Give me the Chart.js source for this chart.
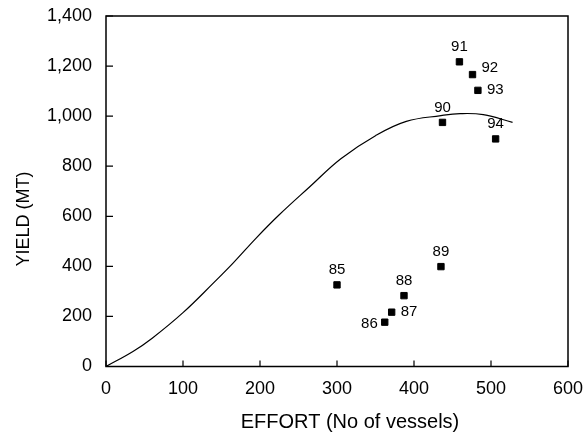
<!DOCTYPE html>
<html>
<head>
<meta charset="utf-8">
<script src="https://cdn.jsdelivr.net/npm/chart.js@4/dist/chart.umd.min.js"></script>
<style>
  html, body { margin: 0; padding: 0; background: #fff; }
  #wrap { width: 584px; height: 435px; }
</style>
</head>
<body>
<div id="wrap"><canvas id="plot"></canvas></div>
<script>
// años (etiquetas de los puntos) y valores observados
let anios = ['85', '86', '87', '88', '89', '90', '91', '92', '93', '94'];
let esfuerzo = [300, 362, 371, 387, 435, 437, 459, 476, 483, 506];
let rendimiento = [326, 177, 217, 283, 399, 975, 1217, 1166, 1103, 909];

// curva ajustada
let curvaX = [0, 35, 60, 100, 140, 165, 195, 225, 265, 305, 350, 390, 435, 460, 490, 528];
let curvaY = [0, 60, 113, 215, 335, 413, 513, 606, 719, 830, 922, 979, 1002, 1010, 1006, 975];

// ticks de los ejes
let ticksX = [0, 100, 200, 300, 400, 500, 600];
let ticksY = [0, 200, 400, 600, 800, 1000, 1200, 1400];

// títulos de los ejes
let tituloX = 'EFFORT (No of vessels)';
let tituloY = 'YIELD (MT)';

// donde va cada etiqueta respecto a su punto
let posEtiqueta = ['top', 'left', 'right', 'top', 'top', 'top', 'top', 'upright', 'right', 'top'];

let fuente = 'Liberation Sans, Arial, Helvetica, sans-serif';

// marco del gráfico + marcas de los ejes hacia adentro + títulos
let marco = {
  id: 'marco',
  afterDraw: (chart) => {
    let ctx = chart.ctx;
    let a = chart.chartArea;
    let sx = chart.scales.x;
    let sy = chart.scales.y;
    ctx.save();
    ctx.strokeStyle = '#000';
    ctx.lineWidth = 1.5;
    ctx.strokeRect(a.left, a.top, a.right - a.left, a.bottom - a.top);
    ctx.lineWidth = 1.2;
    ctx.beginPath();
    ticksX.forEach(v => {
      let px = sx.getPixelForValue(v);
      ctx.moveTo(px, a.bottom);
      ctx.lineTo(px, a.bottom - 6);
    });
    ticksY.forEach(v => {
      let py = sy.getPixelForValue(v);
      ctx.moveTo(a.left, py);
      ctx.lineTo(a.left + 7, py);
    });
    ctx.stroke();

    // títulos (en el original no están centrados en el área)
    ctx.fillStyle = '#000';
    ctx.textAlign = 'center';
    ctx.textBaseline = 'middle';
    ctx.font = '20px ' + fuente;
    ctx.fillText(tituloX, 350, 422);
    ctx.translate(24, 219);
    ctx.rotate(-Math.PI / 2);
    ctx.font = '18px ' + fuente;
    ctx.fillText(tituloY, 0, 0);
    ctx.restore();
  }
};

// etiquetas de año junto a cada punto
let etiquetas = {
  id: 'etiquetas',
  afterDatasetsDraw: (chart) => {
    let ctx = chart.ctx;
    let meta = chart.getDatasetMeta(1);
    ctx.save();
    ctx.fillStyle = '#000';
    ctx.font = '15px ' + fuente;
    ctx.textBaseline = 'middle';
    meta.data.forEach((pt, i) => {
      let pos = posEtiqueta[i];
      let x = pt.x, y = pt.y;
      if (pos === 'top') { ctx.textAlign = 'center'; y -= 15; }
      if (pos === 'left') { ctx.textAlign = 'right'; x -= 7; y += 2; }
      if (pos === 'right') { ctx.textAlign = 'left'; x += 9; }
      if (pos === 'upright') { ctx.textAlign = 'left'; x += 9; y -= 7; }
      ctx.fillText(anios[i], x, y);
    });
    ctx.restore();
  }
};

let config = {
  type: 'scatter',
  data: {
    datasets: [
      {
        label: 'Curva',
        data: curvaX.map((x, i) => ({x: x, y: curvaY[i]})),
        showLine: true,
        borderColor: '#000',
        borderWidth: 1.2,
        pointRadius: 0,
        tension: 0.4,
        fill: false
      },
      {
        label: 'Observado',
        data: esfuerzo.map((x, i) => ({x: x, y: rendimiento[i]})),
        pointStyle: 'rect',
        pointRadius: 4.5,
        backgroundColor: '#000',
        borderColor: '#000',
        borderWidth: 1
      }
    ]
  },
  options: {
    responsive: true,
    maintainAspectRatio: false,
    animation: false,
    layout: { padding: { top: 16, right: 16, left: 0, bottom: 0 } },
    plugins: {
      legend: { display: false },
      tooltip: { enabled: false }
    },
    scales: {
      x: {
        type: 'linear',
        min: 0,
        max: 600,
        afterFit: (s) => { s.height = 68.5; s.paddingLeft = 0; s.paddingRight = 0; },
        afterBuildTicks: (s) => { s.ticks = ticksX.map(v => ({value: v})); },
        grid: { display: false, drawTicks: false },
        border: { display: false },
        ticks: { color: '#000', padding: 12, font: { family: fuente, size: 18 } }
      },
      y: {
        type: 'linear',
        min: 0,
        max: 1400,
        afterFit: (s) => { s.width = 106; s.paddingTop = 0; s.paddingBottom = 0; },
        afterBuildTicks: (s) => { s.ticks = ticksY.map(v => ({value: v})); },
        grid: { display: false, drawTicks: false },
        border: { display: false },
        ticks: {
          color: '#000',
          padding: 14,
          font: { family: fuente, size: 18 },
          callback: (v) => v.toLocaleString('en-US')
        }
      }
    }
  },
  plugins: [marco, etiquetas]
};

let chart1 = new Chart(document.getElementById('plot'), config);
</script>
</body>
</html>
